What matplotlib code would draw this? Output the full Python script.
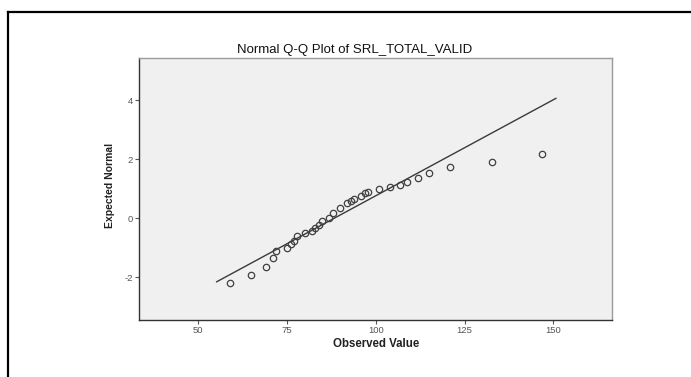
import matplotlib
matplotlib.use("Agg")
import matplotlib.pyplot as plt
from matplotlib.lines import Line2D
import numpy as np

plt.rcParams['font.family'] = ['Liberation Sans', 'DejaVu Sans']

title = "Normal Q-Q Plot of SRL_TOTAL_VALID"
xlabel = "Observed Value"
ylabel = "Expected Normal"

observed = [59.0, 65.0, 69.0, 71.1, 72.0, 75.0, 76.0, 77.0, 77.9, 80.0,
            82.0, 83.0, 84.0, 84.9, 86.9, 88.0, 90.0, 91.8, 92.9, 94.0,
            95.9, 96.9, 97.9, 100.9, 103.9, 106.8, 108.8, 111.9, 114.9,
            120.8, 132.8, 146.8]
expected = [-2.20, -1.92, -1.66, -1.35, -1.12, -1.00, -0.87, -0.77, -0.60, -0.50,
            -0.43, -0.34, -0.23, -0.08, 0.01, 0.17, 0.33, 0.50, 0.57, 0.66,
            0.76, 0.84, 0.89, 0.98, 1.07, 1.13, 1.24, 1.36, 1.52,
            1.72, 1.90, 2.18]

line_x = [55.2, 150.7]
line_mean = 88.3
line_sd = 15.38

xticks = [50, 75, 100, 125, 150]
yticks = [-2, 0, 2, 4]

W, H = 691, 377
fig = plt.figure(figsize=(W / 100, H / 100), dpi=100)
fig.patch.set_facecolor('white')

ax = fig.add_axes([139.3 / W, 1 - 320 / H, (612.3 - 139.3) / W, (320 - 57.5) / H])
ax.set_facecolor('#f0f0f0')
ax.set_xlim(33.43, 166.57)
ax.set_ylim(-3.445, 5.44)

lx = np.array(line_x)
ly = (lx - line_mean) / line_sd
ax.plot(lx, ly, color='#3a3a3a', lw=1.0, zorder=2)
ax.plot(observed, expected, linestyle='none', marker='o', markersize=4.6,
        markerfacecolor='none', markeredgecolor='#404040', markeredgewidth=0.9, zorder=3)

ax.set_xticks(xticks)
ax.set_yticks(yticks)
ax.set_xticklabels([str(t) for t in xticks])
ax.set_yticklabels([str(t) for t in yticks])
ax.tick_params(axis='both', direction='out', length=3, width=0.8, color='#555555',
               labelsize=6.8, labelcolor='#555555', pad=1.5)

for side in ['left', 'bottom']:
    ax.spines[side].set_color('#333333')
    ax.spines[side].set_linewidth(1.0)
for side in ['top', 'right']:
    ax.spines[side].set_color('#9a9a9a')
    ax.spines[side].set_linewidth(1.0)

fig.text(355 / W, 1 - 50 / H, title, ha='center', va='center', fontsize=9.5,
         color='#111111')
fig.text(376 / W, 1 - 344.3 / H, xlabel, ha='center', va='center', fontsize=8.3,
         fontweight='bold', color='#222222')
fig.text(110 / W, 1 - 185 / H, ylabel, ha='center', va='center', fontsize=7.5,
         fontweight='bold', color='#222222', rotation=90)

# outer frame (extends past right and bottom edges)
fig.add_artist(Line2D([8.2 / W, 1.01], [1 - 11.8 / H, 1 - 11.8 / H], transform=fig.transFigure,
                      color='black', lw=1.6))
fig.add_artist(Line2D([8.2 / W, 8.2 / W], [1 - 11.8 / H, -0.01], transform=fig.transFigure,
                      color='black', lw=1.6))

fig.savefig('out.png', dpi=100)
